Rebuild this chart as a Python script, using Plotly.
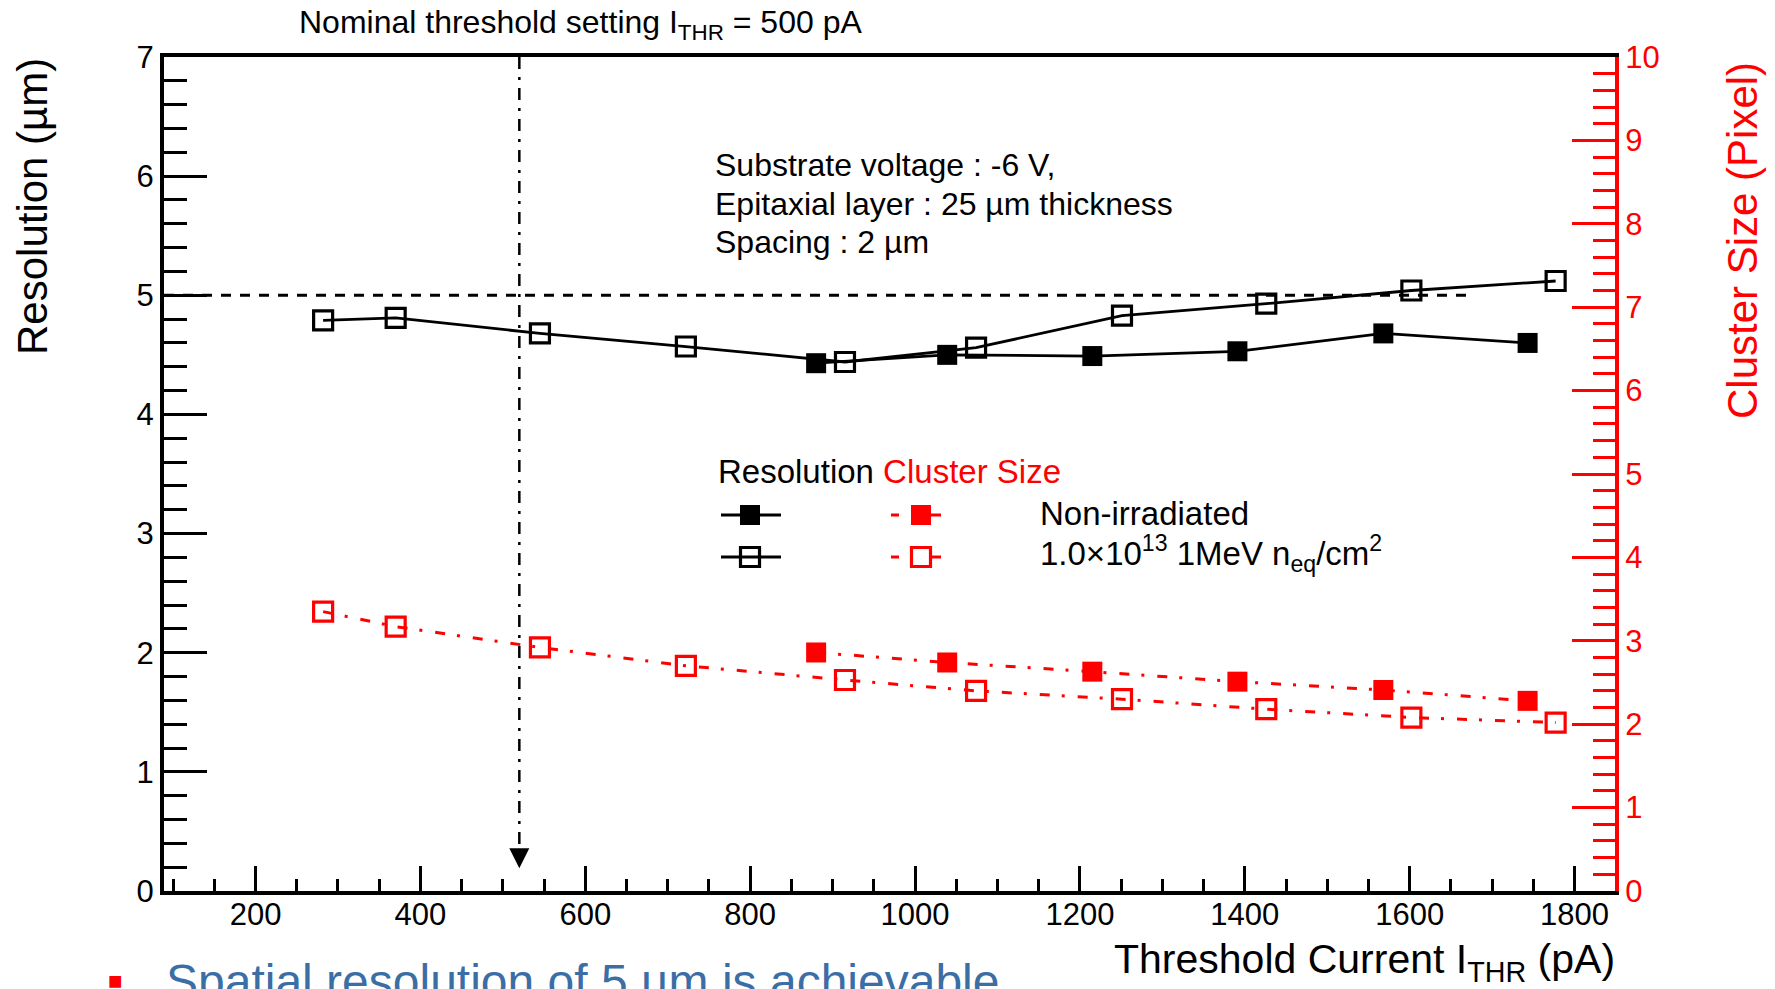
import plotly.graph_objects as go

# ---------------- data ----------------
x_irr = [282, 370, 545, 722, 915, 1074, 1251, 1426, 1602, 1777]
res_irr = [4.79, 4.81, 4.68, 4.57, 4.44, 4.56, 4.83, 4.93, 5.04, 5.12]
cs_irr = [3.35, 3.17, 2.92, 2.70, 2.53, 2.40, 2.30, 2.18, 2.08, 2.02]

x_non = [880, 1039, 1215, 1391, 1568, 1743]
res_non = [4.43, 4.50, 4.49, 4.53, 4.68, 4.60]
cs_non = [2.86, 2.74, 2.63, 2.51, 2.41, 2.28]

x_ticks = [200, 400, 600, 800, 1000, 1200, 1400, 1600, 1800]
res_target = 5.0
res_target_xend = 1672
nominal_x = 520

X_RANGE = [89, 1849]
Y1_RANGE = [0, 7]
Y2_RANGE = [0, 10]

# ---------------- layout geometry ----------------
W, H = 1775, 989
L, R, T, B = 164, 160, 57, 98
PW, PH = W - L - R, H - T - B

def px(xp):
    return (xp - L) / PW

def py(yp):
    return (H - B - yp) / PH

FONT = "Liberation Sans, Arial, sans-serif"
RED = "#ff0000"
BLACK = "#000000"
TXT = 32
TICK = 31
TITLE = 42

fig = go.Figure()

# Resolution (left axis)
fig.add_trace(go.Scatter(
    x=x_irr, y=res_irr, mode="lines+markers", xaxis="x", yaxis="y",
    line=dict(color=BLACK, width=2.8),
    marker=dict(symbol="square-open", size=19, color=BLACK, line=dict(width=3.2, color=BLACK)),
    showlegend=False))
fig.add_trace(go.Scatter(
    x=x_non, y=res_non, mode="lines+markers", xaxis="x", yaxis="y",
    line=dict(color=BLACK, width=2.8),
    marker=dict(symbol="square", size=20, color=BLACK),
    showlegend=False))

# Cluster size (right axis)
DASHDOT = "10px,12px,3px,13px"
fig.add_trace(go.Scatter(
    x=x_irr, y=cs_irr, mode="lines+markers", xaxis="x", yaxis="y2",
    line=dict(color=RED, width=3, dash=DASHDOT),
    marker=dict(symbol="square-open", size=19, color=RED, line=dict(width=3.2, color=RED)),
    showlegend=False))
fig.add_trace(go.Scatter(
    x=x_non, y=cs_non, mode="lines+markers", xaxis="x", yaxis="y2",
    line=dict(color=RED, width=3, dash=DASHDOT),
    marker=dict(symbol="square", size=20, color=RED),
    showlegend=False))

# ---------------- legend glyphs on an overlay paper-like axis ----------------
row1, row2 = py(515), py(557)
bx0, bxc, bx1 = px(721), px(750), px(781)
rxc = px(921)
for yy, filled in [(row1, True), (row2, False)]:
    sym = "square" if filled else "square-open"
    fig.add_trace(go.Scatter(
        x=[bx0, bxc, bx1], y=[yy, yy, yy], mode="lines", xaxis="x3", yaxis="y3",
        line=dict(color=BLACK, width=3), showlegend=False, hoverinfo="skip"))
    fig.add_trace(go.Scatter(
        x=[bxc], y=[yy], mode="markers", xaxis="x3", yaxis="y3",
        marker=dict(symbol=sym, size=20 if filled else 19, color=BLACK,
                    line=dict(width=0 if filled else 3.2, color=BLACK)),
        showlegend=False, hoverinfo="skip"))
    fig.add_trace(go.Scatter(
        x=[px(891), px(899), None, px(930), px(941)], y=[yy, yy, None, yy, yy],
        mode="lines", xaxis="x3", yaxis="y3",
        line=dict(color=RED, width=3), showlegend=False, hoverinfo="skip"))
    fig.add_trace(go.Scatter(
        x=[rxc], y=[yy], mode="markers", xaxis="x3", yaxis="y3",
        marker=dict(symbol=sym, size=20 if filled else 19, color=RED,
                    line=dict(width=0 if filled else 3.2, color=RED)),
        showlegend=False, hoverinfo="skip"))

# ---------------- reference lines ----------------
shapes = [
    dict(type="line", xref="x", yref="y", x0=X_RANGE[0], x1=res_target_xend,
         y0=res_target, y1=res_target, line=dict(color=BLACK, width=3, dash="10px,9px"),
         layer="below"),
    dict(type="line", xref="x", yref="y", x0=nominal_x, x1=nominal_x,
         y0=Y1_RANGE[1], y1=0.32, line=dict(color=BLACK, width=2.5, dash="12px,8px,3px,8px"),
         layer="below"),
]

def txt(text, x, y, size=TXT, color=BLACK, xanchor="left", yanchor="middle", angle=0):
    return dict(text=text, x=x, y=y, xref="paper", yref="paper", xanchor=xanchor,
                yanchor=yanchor, textangle=angle, showarrow=False,
                font=dict(family=FONT, size=size, color=color))

annotations = [
    # arrow head of nominal threshold line
    dict(x=nominal_x, y=0.19, xref="x", yref="y", ax=0, ay=-18, axref="pixel", ayref="pixel",
         text="", showarrow=True, arrowhead=2, arrowsize=1.6, arrowwidth=2.5, arrowcolor=BLACK,
         standoff=0),
    txt("Nominal threshold setting I<sub>THR</sub> = 500 pA", px(297), py(24), size=32),
    txt("Substrate voltage : -6 V,", px(713), py(165)),
    txt("Epitaxial layer : 25 µm thickness", px(713), py(204)),
    txt("Spacing : 2 µm", px(713), py(242)),
    txt("Resolution <span style='color:#ff0000'>Cluster Size</span>", px(716), py(471), size=33),
    txt("Non-irradiated", px(1038), py(513), size=33),
    txt("1.0×10<sup>13</sup> 1MeV n<sub>eq</sub>/cm<sup>2</sup>", px(1038), py(553), size=33),
    # axis titles
    txt("Resolution (µm)", px(32), py(207), size=TITLE, xanchor="center", angle=-90),
    txt("Cluster Size (Pixel)", px(1743), py(240), size=TITLE, color=RED, xanchor="center", angle=-90),
    txt("Threshold Current I<sub>THR</sub> (pA)", px(1617), py(962), size=TITLE - 1, xanchor="right"),
    # cropped slide text at the bottom
    txt("<span style='color:#ff0000'>■</span>", px(106), py(980), size=24),
    txt("Spatial resolution of 5 µm is achievable", px(164), py(953), size=48,
        color="#3b6ea5", yanchor="top"),
]

fig.update_layout(
    width=W, height=H,
    margin=dict(l=L, r=R, t=T, b=B, pad=0),
    paper_bgcolor="white", plot_bgcolor="white",
    font=dict(family=FONT, size=TXT, color=BLACK),
    showlegend=False,
    shapes=shapes,
    annotations=annotations,
    xaxis=dict(
        range=X_RANGE, tickvals=x_ticks, ticks="inside", ticklen=25, tickwidth=3,
        tickcolor=BLACK, showline=True, linewidth=4, linecolor=BLACK, mirror=True,
        showgrid=False, zeroline=False, tickfont=dict(family=FONT, size=TICK, color=BLACK),
        ticklabelstandoff=-7,
        minor=dict(dtick=50, tick0=0, ticks="inside", ticklen=12, tickwidth=3, tickcolor=BLACK, showgrid=False),
        automargin=False,
    ),
    yaxis=dict(
        range=Y1_RANGE, dtick=1, tick0=0, ticks="inside", ticklen=43, tickwidth=3,
        tickcolor=BLACK, showline=True, linewidth=4, linecolor=BLACK,
        showgrid=False, zeroline=False, tickfont=dict(family=FONT, size=TICK, color=BLACK),
        minor=dict(dtick=0.2, tick0=0, ticks="inside", ticklen=23, tickwidth=3, tickcolor=BLACK, showgrid=False),
        automargin=False,
    ),
    yaxis2=dict(
        range=Y2_RANGE, dtick=1, tick0=0, overlaying="y", side="right", anchor="x",
        ticks="inside", ticklen=43, tickwidth=3, tickcolor=RED,
        showline=True, linewidth=4, linecolor=RED,
        showgrid=False, zeroline=False, tickfont=dict(family=FONT, size=TICK, color=RED),
        minor=dict(dtick=0.2, tick0=0, ticks="inside", ticklen=22, tickwidth=3, tickcolor=RED, showgrid=False),
        automargin=False,
    ),
    xaxis3=dict(range=[0, 1], overlaying="x", visible=False, fixedrange=True),
    yaxis3=dict(range=[0, 1], overlaying="y", visible=False, fixedrange=True),
)

fig.write_html("out.html")
